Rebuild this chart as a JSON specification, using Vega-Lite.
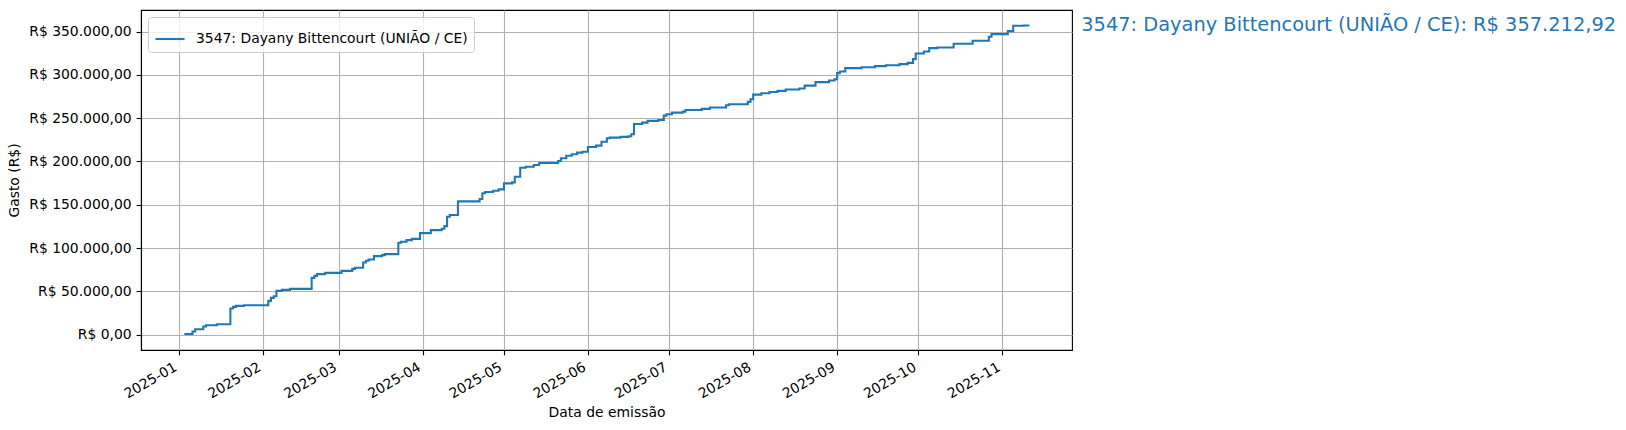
{
  "$schema": "https://vega.github.io/schema/vega-lite/v6.json",
  "background": "white",
  "autosize": "none",
  "width": 931,
  "height": 340,
  "padding": {"left": 141, "top": 10, "right": 554, "bottom": 80},
  "config": {
    "font": "DejaVu Sans",
    "view": {"stroke": "black", "strokeWidth": 1.1},
    "axis": {
      "grid": true, "gridColor": "#b0b0b0", "gridWidth": 1.1,
      "domainColor": "black", "domainWidth": 1.1,
      "tickColor": "black", "tickWidth": 1.1, "tickSize": 4.9,
      "labelFont": "DejaVu Sans", "labelFontSize": 13.9, "labelColor": "black",
      "titleFont": "DejaVu Sans", "titleFontSize": 13.9, "titleFontWeight": "normal", "titleColor": "black"
    },
    "legend": {
      "orient": "top-left", "offset": 7, "padding": 6,
      "strokeColor": "#cccccc", "fillColor": "rgba(255,255,255,0.8)", "cornerRadius": 3,
      "symbolType": "stroke", "symbolSize": 841, "symbolStrokeWidth": 2.08,
      "labelFont": "DejaVu Sans", "labelFontSize": 13.9, "labelColor": "black", "labelOffset": 10,
      "labelLimit": 0
    }
  },
  "layer": [
    {
      "data": {"values": [
        {"data": "2025-01-03", "gasto": 700, "deputado": "3547: Dayany Bittencourt (UNIÃO / CE)"},
        {"data": "2025-01-06", "gasto": 3500, "deputado": "3547: Dayany Bittencourt (UNIÃO / CE)"},
        {"data": "2025-01-07", "gasto": 6100, "deputado": "3547: Dayany Bittencourt (UNIÃO / CE)"},
        {"data": "2025-01-10", "gasto": 9300, "deputado": "3547: Dayany Bittencourt (UNIÃO / CE)"},
        {"data": "2025-01-11", "gasto": 10800, "deputado": "3547: Dayany Bittencourt (UNIÃO / CE)"},
        {"data": "2025-01-15", "gasto": 11900, "deputado": "3547: Dayany Bittencourt (UNIÃO / CE)"},
        {"data": "2025-01-20", "gasto": 30100, "deputado": "3547: Dayany Bittencourt (UNIÃO / CE)"},
        {"data": "2025-01-21", "gasto": 32000, "deputado": "3547: Dayany Bittencourt (UNIÃO / CE)"},
        {"data": "2025-01-22", "gasto": 33100, "deputado": "3547: Dayany Bittencourt (UNIÃO / CE)"},
        {"data": "2025-01-25", "gasto": 33900, "deputado": "3547: Dayany Bittencourt (UNIÃO / CE)"},
        {"data": "2025-02-03", "gasto": 38900, "deputado": "3547: Dayany Bittencourt (UNIÃO / CE)"},
        {"data": "2025-02-04", "gasto": 42400, "deputado": "3547: Dayany Bittencourt (UNIÃO / CE)"},
        {"data": "2025-02-05", "gasto": 44300, "deputado": "3547: Dayany Bittencourt (UNIÃO / CE)"},
        {"data": "2025-02-06", "gasto": 50500, "deputado": "3547: Dayany Bittencourt (UNIÃO / CE)"},
        {"data": "2025-02-08", "gasto": 51600, "deputado": "3547: Dayany Bittencourt (UNIÃO / CE)"},
        {"data": "2025-02-11", "gasto": 52800, "deputado": "3547: Dayany Bittencourt (UNIÃO / CE)"},
        {"data": "2025-02-19", "gasto": 65500, "deputado": "3547: Dayany Bittencourt (UNIÃO / CE)"},
        {"data": "2025-02-20", "gasto": 67800, "deputado": "3547: Dayany Bittencourt (UNIÃO / CE)"},
        {"data": "2025-02-21", "gasto": 69800, "deputado": "3547: Dayany Bittencourt (UNIÃO / CE)"},
        {"data": "2025-02-24", "gasto": 71300, "deputado": "3547: Dayany Bittencourt (UNIÃO / CE)"},
        {"data": "2025-03-02", "gasto": 73600, "deputado": "3547: Dayany Bittencourt (UNIÃO / CE)"},
        {"data": "2025-03-06", "gasto": 75900, "deputado": "3547: Dayany Bittencourt (UNIÃO / CE)"},
        {"data": "2025-03-07", "gasto": 77100, "deputado": "3547: Dayany Bittencourt (UNIÃO / CE)"},
        {"data": "2025-03-10", "gasto": 83300, "deputado": "3547: Dayany Bittencourt (UNIÃO / CE)"},
        {"data": "2025-03-11", "gasto": 85200, "deputado": "3547: Dayany Bittencourt (UNIÃO / CE)"},
        {"data": "2025-03-12", "gasto": 86800, "deputado": "3547: Dayany Bittencourt (UNIÃO / CE)"},
        {"data": "2025-03-14", "gasto": 90600, "deputado": "3547: Dayany Bittencourt (UNIÃO / CE)"},
        {"data": "2025-03-17", "gasto": 91800, "deputado": "3547: Dayany Bittencourt (UNIÃO / CE)"},
        {"data": "2025-03-18", "gasto": 92900, "deputado": "3547: Dayany Bittencourt (UNIÃO / CE)"},
        {"data": "2025-03-23", "gasto": 106000, "deputado": "3547: Dayany Bittencourt (UNIÃO / CE)"},
        {"data": "2025-03-24", "gasto": 107200, "deputado": "3547: Dayany Bittencourt (UNIÃO / CE)"},
        {"data": "2025-03-26", "gasto": 109100, "deputado": "3547: Dayany Bittencourt (UNIÃO / CE)"},
        {"data": "2025-03-28", "gasto": 110600, "deputado": "3547: Dayany Bittencourt (UNIÃO / CE)"},
        {"data": "2025-03-31", "gasto": 117200, "deputado": "3547: Dayany Bittencourt (UNIÃO / CE)"},
        {"data": "2025-04-04", "gasto": 120700, "deputado": "3547: Dayany Bittencourt (UNIÃO / CE)"},
        {"data": "2025-04-08", "gasto": 122200, "deputado": "3547: Dayany Bittencourt (UNIÃO / CE)"},
        {"data": "2025-04-09", "gasto": 125300, "deputado": "3547: Dayany Bittencourt (UNIÃO / CE)"},
        {"data": "2025-04-10", "gasto": 136100, "deputado": "3547: Dayany Bittencourt (UNIÃO / CE)"},
        {"data": "2025-04-11", "gasto": 138100, "deputado": "3547: Dayany Bittencourt (UNIÃO / CE)"},
        {"data": "2025-04-14", "gasto": 153900, "deputado": "3547: Dayany Bittencourt (UNIÃO / CE)"},
        {"data": "2025-04-22", "gasto": 156600, "deputado": "3547: Dayany Bittencourt (UNIÃO / CE)"},
        {"data": "2025-04-23", "gasto": 163200, "deputado": "3547: Dayany Bittencourt (UNIÃO / CE)"},
        {"data": "2025-04-24", "gasto": 164700, "deputado": "3547: Dayany Bittencourt (UNIÃO / CE)"},
        {"data": "2025-04-27", "gasto": 166200, "deputado": "3547: Dayany Bittencourt (UNIÃO / CE)"},
        {"data": "2025-04-29", "gasto": 167800, "deputado": "3547: Dayany Bittencourt (UNIÃO / CE)"},
        {"data": "2025-05-01", "gasto": 174700, "deputado": "3547: Dayany Bittencourt (UNIÃO / CE)"},
        {"data": "2025-05-04", "gasto": 175900, "deputado": "3547: Dayany Bittencourt (UNIÃO / CE)"},
        {"data": "2025-05-05", "gasto": 182400, "deputado": "3547: Dayany Bittencourt (UNIÃO / CE)"},
        {"data": "2025-05-07", "gasto": 192800, "deputado": "3547: Dayany Bittencourt (UNIÃO / CE)"},
        {"data": "2025-05-09", "gasto": 194000, "deputado": "3547: Dayany Bittencourt (UNIÃO / CE)"},
        {"data": "2025-05-12", "gasto": 196000, "deputado": "3547: Dayany Bittencourt (UNIÃO / CE)"},
        {"data": "2025-05-14", "gasto": 198300, "deputado": "3547: Dayany Bittencourt (UNIÃO / CE)"},
        {"data": "2025-05-21", "gasto": 200600, "deputado": "3547: Dayany Bittencourt (UNIÃO / CE)"},
        {"data": "2025-05-22", "gasto": 203700, "deputado": "3547: Dayany Bittencourt (UNIÃO / CE)"},
        {"data": "2025-05-24", "gasto": 206700, "deputado": "3547: Dayany Bittencourt (UNIÃO / CE)"},
        {"data": "2025-05-26", "gasto": 208300, "deputado": "3547: Dayany Bittencourt (UNIÃO / CE)"},
        {"data": "2025-05-28", "gasto": 210200, "deputado": "3547: Dayany Bittencourt (UNIÃO / CE)"},
        {"data": "2025-05-30", "gasto": 211300, "deputado": "3547: Dayany Bittencourt (UNIÃO / CE)"},
        {"data": "2025-06-01", "gasto": 216800, "deputado": "3547: Dayany Bittencourt (UNIÃO / CE)"},
        {"data": "2025-06-04", "gasto": 218300, "deputado": "3547: Dayany Bittencourt (UNIÃO / CE)"},
        {"data": "2025-06-06", "gasto": 222900, "deputado": "3547: Dayany Bittencourt (UNIÃO / CE)"},
        {"data": "2025-06-08", "gasto": 226800, "deputado": "3547: Dayany Bittencourt (UNIÃO / CE)"},
        {"data": "2025-06-09", "gasto": 227600, "deputado": "3547: Dayany Bittencourt (UNIÃO / CE)"},
        {"data": "2025-06-13", "gasto": 228400, "deputado": "3547: Dayany Bittencourt (UNIÃO / CE)"},
        {"data": "2025-06-16", "gasto": 229200, "deputado": "3547: Dayany Bittencourt (UNIÃO / CE)"},
        {"data": "2025-06-17", "gasto": 231500, "deputado": "3547: Dayany Bittencourt (UNIÃO / CE)"},
        {"data": "2025-06-18", "gasto": 243400, "deputado": "3547: Dayany Bittencourt (UNIÃO / CE)"},
        {"data": "2025-06-21", "gasto": 244900, "deputado": "3547: Dayany Bittencourt (UNIÃO / CE)"},
        {"data": "2025-06-23", "gasto": 246900, "deputado": "3547: Dayany Bittencourt (UNIÃO / CE)"},
        {"data": "2025-06-27", "gasto": 248000, "deputado": "3547: Dayany Bittencourt (UNIÃO / CE)"},
        {"data": "2025-06-29", "gasto": 253000, "deputado": "3547: Dayany Bittencourt (UNIÃO / CE)"},
        {"data": "2025-06-30", "gasto": 254600, "deputado": "3547: Dayany Bittencourt (UNIÃO / CE)"},
        {"data": "2025-07-02", "gasto": 256500, "deputado": "3547: Dayany Bittencourt (UNIÃO / CE)"},
        {"data": "2025-07-06", "gasto": 257600, "deputado": "3547: Dayany Bittencourt (UNIÃO / CE)"},
        {"data": "2025-07-07", "gasto": 259600, "deputado": "3547: Dayany Bittencourt (UNIÃO / CE)"},
        {"data": "2025-07-13", "gasto": 260800, "deputado": "3547: Dayany Bittencourt (UNIÃO / CE)"},
        {"data": "2025-07-16", "gasto": 262300, "deputado": "3547: Dayany Bittencourt (UNIÃO / CE)"},
        {"data": "2025-07-22", "gasto": 265000, "deputado": "3547: Dayany Bittencourt (UNIÃO / CE)"},
        {"data": "2025-07-23", "gasto": 266200, "deputado": "3547: Dayany Bittencourt (UNIÃO / CE)"},
        {"data": "2025-07-30", "gasto": 268900, "deputado": "3547: Dayany Bittencourt (UNIÃO / CE)"},
        {"data": "2025-07-31", "gasto": 272000, "deputado": "3547: Dayany Bittencourt (UNIÃO / CE)"},
        {"data": "2025-08-01", "gasto": 277300, "deputado": "3547: Dayany Bittencourt (UNIÃO / CE)"},
        {"data": "2025-08-04", "gasto": 278900, "deputado": "3547: Dayany Bittencourt (UNIÃO / CE)"},
        {"data": "2025-08-07", "gasto": 280400, "deputado": "3547: Dayany Bittencourt (UNIÃO / CE)"},
        {"data": "2025-08-10", "gasto": 281600, "deputado": "3547: Dayany Bittencourt (UNIÃO / CE)"},
        {"data": "2025-08-13", "gasto": 283100, "deputado": "3547: Dayany Bittencourt (UNIÃO / CE)"},
        {"data": "2025-08-18", "gasto": 284300, "deputado": "3547: Dayany Bittencourt (UNIÃO / CE)"},
        {"data": "2025-08-20", "gasto": 287700, "deputado": "3547: Dayany Bittencourt (UNIÃO / CE)"},
        {"data": "2025-08-24", "gasto": 291700, "deputado": "3547: Dayany Bittencourt (UNIÃO / CE)"},
        {"data": "2025-08-29", "gasto": 293500, "deputado": "3547: Dayany Bittencourt (UNIÃO / CE)"},
        {"data": "2025-08-31", "gasto": 295100, "deputado": "3547: Dayany Bittencourt (UNIÃO / CE)"},
        {"data": "2025-09-01", "gasto": 302100, "deputado": "3547: Dayany Bittencourt (UNIÃO / CE)"},
        {"data": "2025-09-02", "gasto": 304000, "deputado": "3547: Dayany Bittencourt (UNIÃO / CE)"},
        {"data": "2025-09-04", "gasto": 307900, "deputado": "3547: Dayany Bittencourt (UNIÃO / CE)"},
        {"data": "2025-09-10", "gasto": 309000, "deputado": "3547: Dayany Bittencourt (UNIÃO / CE)"},
        {"data": "2025-09-15", "gasto": 310200, "deputado": "3547: Dayany Bittencourt (UNIÃO / CE)"},
        {"data": "2025-09-19", "gasto": 311300, "deputado": "3547: Dayany Bittencourt (UNIÃO / CE)"},
        {"data": "2025-09-24", "gasto": 312500, "deputado": "3547: Dayany Bittencourt (UNIÃO / CE)"},
        {"data": "2025-09-27", "gasto": 314000, "deputado": "3547: Dayany Bittencourt (UNIÃO / CE)"},
        {"data": "2025-09-29", "gasto": 318300, "deputado": "3547: Dayany Bittencourt (UNIÃO / CE)"},
        {"data": "2025-09-30", "gasto": 324800, "deputado": "3547: Dayany Bittencourt (UNIÃO / CE)"},
        {"data": "2025-10-03", "gasto": 327100, "deputado": "3547: Dayany Bittencourt (UNIÃO / CE)"},
        {"data": "2025-10-05", "gasto": 331000, "deputado": "3547: Dayany Bittencourt (UNIÃO / CE)"},
        {"data": "2025-10-08", "gasto": 331700, "deputado": "3547: Dayany Bittencourt (UNIÃO / CE)"},
        {"data": "2025-10-14", "gasto": 336000, "deputado": "3547: Dayany Bittencourt (UNIÃO / CE)"},
        {"data": "2025-10-21", "gasto": 339500, "deputado": "3547: Dayany Bittencourt (UNIÃO / CE)"},
        {"data": "2025-10-27", "gasto": 344100, "deputado": "3547: Dayany Bittencourt (UNIÃO / CE)"},
        {"data": "2025-10-28", "gasto": 347200, "deputado": "3547: Dayany Bittencourt (UNIÃO / CE)"},
        {"data": "2025-11-03", "gasto": 350700, "deputado": "3547: Dayany Bittencourt (UNIÃO / CE)"},
        {"data": "2025-11-05", "gasto": 356800, "deputado": "3547: Dayany Bittencourt (UNIÃO / CE)"},
        {"data": "2025-11-09", "gasto": 357212.92, "deputado": "3547: Dayany Bittencourt (UNIÃO / CE)"},
        {"data": "2025-11-11", "gasto": 357212.92, "deputado": "3547: Dayany Bittencourt (UNIÃO / CE)"}
      ]},
      "mark": {"type": "line", "interpolate": "step-after", "strokeWidth": 2.08},
      "encoding": {
        "x": {
          "field": "data", "type": "temporal", "title": "Data de emissão",
          "scale": {"domain": [
            {"year": 2024, "month": 12, "date": 18},
            {"year": 2025, "month": 11, "date": 26, "hours": 16, "minutes": 48}
          ]},
          "axis": {
            "values": [
              {"year": 2025, "month": 1, "date": 1}, {"year": 2025, "month": 2, "date": 1},
              {"year": 2025, "month": 3, "date": 1}, {"year": 2025, "month": 4, "date": 1},
              {"year": 2025, "month": 5, "date": 1}, {"year": 2025, "month": 6, "date": 1},
              {"year": 2025, "month": 7, "date": 1}, {"year": 2025, "month": 8, "date": 1},
              {"year": 2025, "month": 9, "date": 1}, {"year": 2025, "month": 10, "date": 1},
              {"year": 2025, "month": 11, "date": 1}
            ],
            "format": "%Y-%m", "labelAngle": -30, "labelAlign": "right", "labelBaseline": "bottom",
            "labelPadding": 17, "titlePadding": 5
          }
        },
        "y": {
          "field": "gasto", "type": "quantitative", "title": "Gasto (R$)",
          "scale": {"domain": [-17860.65, 375073.57], "nice": false, "zero": false},
          "axis": {
            "values": [0, 50000, 100000, 150000, 200000, 250000, 300000, 350000],
            "labelExpr": "'R$ ' + replace(replace(replace(format(datum.value, ',.2f'), ',', '_'), '.', ','), '_', '.')",
            "labelPadding": 4.9, "titlePadding": 7
          }
        },
        "color": {
          "field": "deputado", "type": "nominal",
          "scale": {"range": ["#1f77b4"]},
          "legend": {"title": null}
        }
      }
    },
    {
      "data": {"values": [
        {"rotulo": "3547: Dayany Bittencourt (UNIÃO / CE): R$ 357.212,92", "gasto": 357212.92}
      ]},
      "mark": {"type": "text", "align": "left", "baseline": "middle", "fontSize": 19.4, "color": "#1f77b4", "font": "DejaVu Sans", "clip": false},
      "encoding": {
        "x": {"datum": {"year": 2025, "month": 11, "date": 30, "hours": 2, "minutes": 24}, "type": "temporal"},
        "y": {"field": "gasto", "type": "quantitative"},
        "text": {"field": "rotulo"}
      }
    }
  ]
}
